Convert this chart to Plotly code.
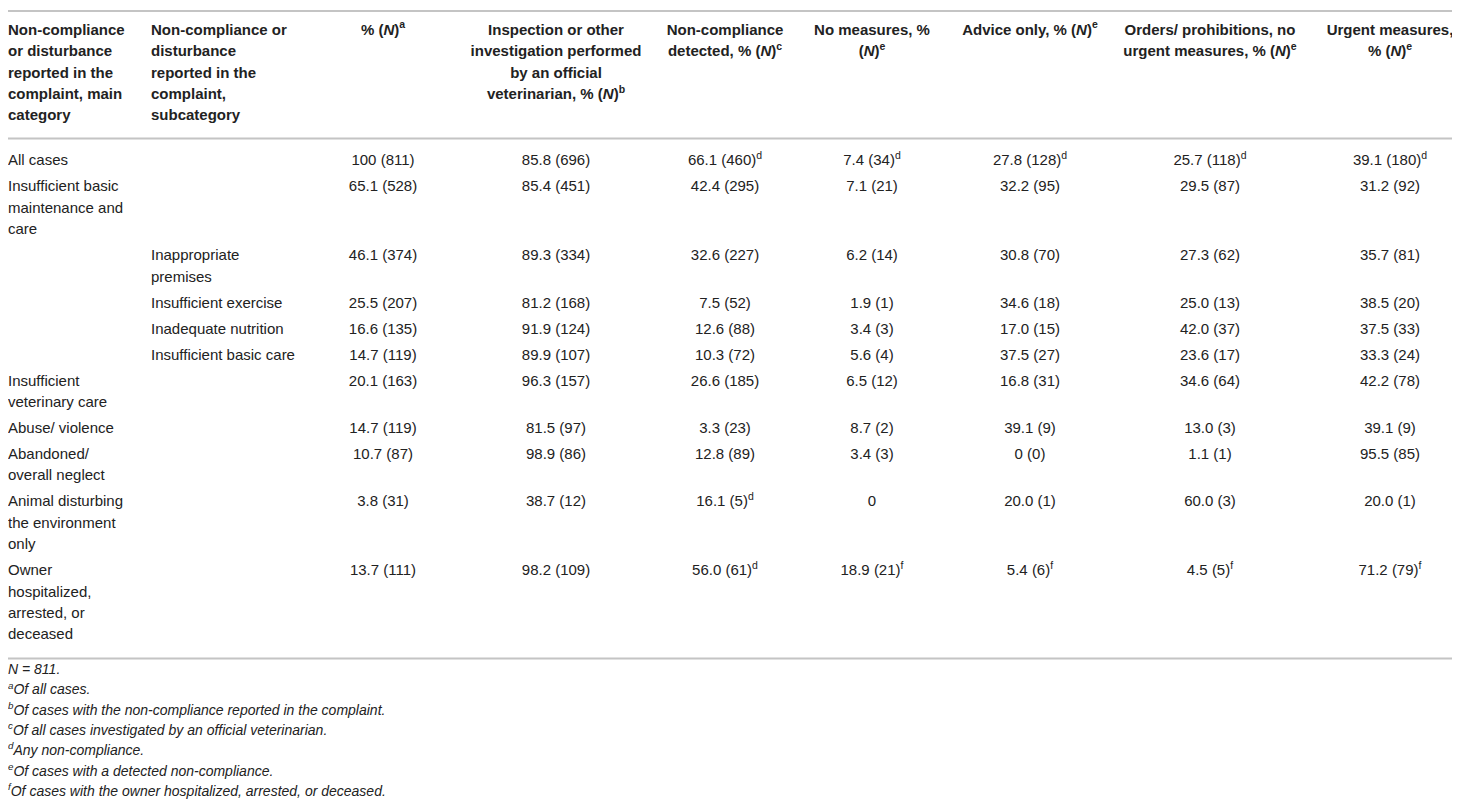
import plotly.graph_objects as go

# column headers (line breaks as in the printed table)
header_labels = [
    "Non-compliance<br>or disturbance<br>reported in the<br>complaint, main<br>category",
    "Non-compliance or<br>disturbance<br>reported in the<br>complaint,<br>subcategory",
    "% (<i>N</i>)<sup>a</sup>",
    "Inspection or other<br>investigation performed<br>by an official<br>veterinarian, % (<i>N</i>)<sup>b</sup>",
    "Non-compliance<br>detected, % (<i>N</i>)<sup>c</sup>",
    "No measures, %<br>(<i>N</i>)<sup>e</sup>",
    "Advice only, % (<i>N</i>)<sup>e</sup>",
    "Orders/ prohibitions, no<br>urgent measures, % (<i>N</i>)<sup>e</sup>",
    "Urgent measures,<br>% (<i>N</i>)<sup>e</sup>",
]

main_category = [
    "All cases",
    "Insufficient basic<br>maintenance and<br>care",
    "", "", "", "",
    "Insufficient<br>veterinary care",
    "Abuse/ violence",
    "Abandoned/<br>overall neglect",
    "Animal disturbing<br>the environment<br>only",
    "Owner<br>hospitalized,<br>arrested, or<br>deceased",
]
subcategory = [
    "", "",
    "Inappropriate<br>premises",
    "Insufficient exercise",
    "Inadequate nutrition",
    "Insufficient basic care",
    "", "", "", "", "",
]

pct_all = [100, 65.1, 46.1, 25.5, 16.6, 14.7, 20.1, 14.7, 10.7, 3.8, 13.7]
n_all = [811, 528, 374, 207, 135, 119, 163, 119, 87, 31, 111]
pct_investigated = [85.8, 85.4, 89.3, 81.2, 91.9, 89.9, 96.3, 81.5, 98.9, 38.7, 98.2]
n_investigated = [696, 451, 334, 168, 124, 107, 157, 97, 86, 12, 109]
pct_detected = [66.1, 42.4, 32.6, 7.5, 12.6, 10.3, 26.6, 3.3, 12.8, 16.1, 56.0]
n_detected = [460, 295, 227, 52, 88, 72, 185, 23, 89, 5, 61]
pct_no_measures = [7.4, 7.1, 6.2, 1.9, 3.4, 5.6, 6.5, 8.7, 3.4, 0, 18.9]
n_no_measures = [34, 21, 14, 1, 3, 4, 12, 2, 3, None, 21]
pct_advice = [27.8, 32.2, 30.8, 34.6, 17.0, 37.5, 16.8, 39.1, 0, 20.0, 5.4]
n_advice = [128, 95, 70, 18, 15, 27, 31, 9, 0, 1, 6]
pct_orders = [25.7, 29.5, 27.3, 25.0, 42.0, 23.6, 34.6, 13.0, 1.1, 60.0, 4.5]
n_orders = [118, 87, 62, 13, 37, 17, 64, 3, 1, 3, 5]
pct_urgent = [39.1, 31.2, 35.7, 38.5, 37.5, 33.3, 42.2, 39.1, 95.5, 20.0, 71.2]
n_urgent = [180, 92, 81, 20, 33, 24, 78, 9, 85, 1, 79]

detected_notes = ["d", "", "", "", "", "", "", "", "", "d", "d"]
measure_notes = ["d", "", "", "", "", "", "", "", "", "", "f"]

footnotes = [
    "<i>N</i> = 811.",
    "<sup>a</sup>Of all cases.",
    "<sup>b</sup>Of cases with the non-compliance reported in the complaint.",
    "<sup>c</sup>Of all cases investigated by an official veterinarian.",
    "<sup>d</sup>Any non-compliance.",
    "<sup>e</sup>Of cases with a detected non-compliance.",
    "<sup>f</sup>Of cases with the owner hospitalized, arrested, or deceased.",
]


def fmt(pcts, ns, notes=None):
    out = []
    for i, p in enumerate(pcts):
        s = "100" if p == 100 else ("0" if p == 0 else f"{p:.1f}")
        if ns[i] is not None:
            s += f" ({ns[i]})"
        if notes and notes[i]:
            s += f"<sup>{notes[i]}</sup>"
        out.append(s)
    return out


columns = [
    main_category,
    subcategory,
    fmt(pct_all, n_all),
    fmt(pct_investigated, n_investigated),
    fmt(pct_detected, n_detected, detected_notes),
    fmt(pct_no_measures, n_no_measures, measure_notes),
    fmt(pct_advice, n_advice, measure_notes),
    fmt(pct_orders, n_orders, measure_notes),
    fmt(pct_urgent, n_urgent, measure_notes),
]

# layout settings (px on a 1460x800 canvas)
W, H = 1460, 800
LINE = 21.4
ROW_PAD = 4.6
HEAD_TOP = 23
NOTE_LINE = 20.3
col_x = [0, 143, 375, 548, 717, 864, 1022, 1202, 1382]
col_pos = ["middle right"] * 2 + ["middle center"] * 7
txt_color = "#222222"
rule_color = "#c4c4c4"
font_family = "Liberation Sans, Arial, sans-serif"

# header lines
hx, hy, ht, hp = [], [], [], []
head_lines = 0
for j, lab in enumerate(header_labels):
    parts = lab.split("<br>")
    head_lines = max(head_lines, len(parts))
    for k, part in enumerate(parts):
        hx.append(col_x[j])
        hy.append(HEAD_TOP + k * LINE)
        ht.append(part)
        hp.append(col_pos[j])
header_rule = HEAD_TOP + (head_lines - 1) * LINE + 22

# body lines
bx, by, bt, bp = [], [], [], []
y = header_rule + 23
last_y = y
for i in range(len(main_category)):
    cells = [c[i].split("<br>") if c[i] else [] for c in columns]
    nl = max(len(c) for c in cells)
    for j, parts in enumerate(cells):
        for k, part in enumerate(parts):
            bx.append(col_x[j])
            by.append(y + k * LINE)
            bt.append(part)
            bp.append(col_pos[j])
    last_y = y + (nl - 1) * LINE
    y += nl * LINE + ROW_PAD
bottom_rule = last_y + 23

# footnotes under the table
fy0 = bottom_rule + 12
fx = [0] * len(footnotes)
fy = [fy0 + k * NOTE_LINE for k in range(len(footnotes))]

fig = go.Figure()
fig.add_trace(go.Scatter(
    x=hx, y=hy, text=ht, mode="text", textposition=hp,
    textfont=dict(family=font_family, size=15, color=txt_color, weight="bold"),
    hoverinfo="skip", cliponaxis=False, showlegend=False))
fig.add_trace(go.Scatter(
    x=bx, y=by, text=bt, mode="text", textposition=bp,
    textfont=dict(family=font_family, size=15, color=txt_color),
    hoverinfo="skip", cliponaxis=False, showlegend=False))
fig.add_trace(go.Scatter(
    x=fx, y=fy, text=footnotes, mode="text", textposition="middle right",
    textfont=dict(family=font_family, size=14, color=txt_color, style="italic"),
    hoverinfo="skip", cliponaxis=False, showlegend=False))

for ry in [3, header_rule, bottom_rule]:
    fig.add_shape(type="line", xref="paper", x0=0, x1=1, yref="y", y0=ry, y1=ry,
                  line=dict(color=rule_color, width=2))

fig.update_layout(
    width=W, height=H,
    margin=dict(l=0, r=0, t=0, b=0),
    paper_bgcolor="white", plot_bgcolor="white",
    xaxis=dict(range=[0, W], visible=False, fixedrange=True),
    yaxis=dict(range=[H, 0], visible=False, fixedrange=True),
)

fig.write_html("out.html")
